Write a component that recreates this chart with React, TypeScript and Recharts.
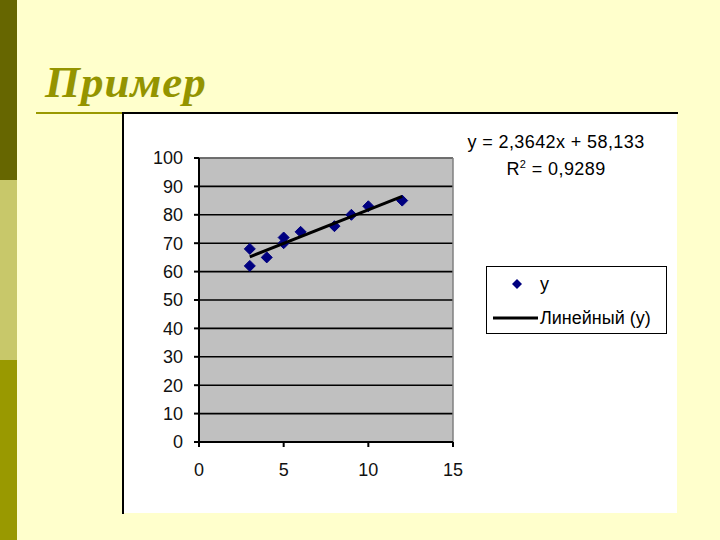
import {
  CartesianGrid,
  Legend,
  ReferenceLine,
  Scatter,
  ScatterChart,
  XAxis,
  YAxis,
} from "recharts";

const xValues = [3, 3, 4, 5, 5, 6, 8, 9, 10, 12];
const yValues = [68, 62, 65, 72, 70, 74, 76, 80, 83, 85];
const trendX = [3, 12];
const trendY = [65.2, 86.5];
const xTicks = [0, 5, 10, 15];
const yTicks = [0, 10, 20, 30, 40, 50, 60, 70, 80, 90, 100];
const seriesName = "y";
const trendName = "Линейный (y)";
const equationText = "y = 2,3642x + 58,133";
const rSquaredText = " = 0,9289";

const points = xValues.map((x, i) => ({ x, y: yValues[i] }));
const trend = trendX.map((x, i) => ({ x, y: trendY[i] }));

const FONT = '"Liberation Sans", Arial, sans-serif';
const MARKER = "#000080";

function Diamond(props: any) {
  const { cx, cy } = props;
  if (cx == null || cy == null) return <g />;
  const r = 5.5;
  return (
    <polygon
      points={`${cx},${cy - r} ${cx + r},${cy} ${cx},${cy + r} ${cx - r},${cy}`}
      fill={MARKER}
      stroke={MARKER}
      strokeWidth={1}
    />
  );
}

function LegendBox() {
  return (
    <div
      style={{
        width: 179,
        height: 66,
        border: "1px solid #000",
        background: "#fff",
        position: "relative",
        fontFamily: FONT,
        fontSize: 18,
        color: "#000",
      }}
    >
      <svg width={60} height={66} style={{ position: "absolute", left: 0, top: 0 }}>
        <polygon points="30,12 35,17 30,22 25,17" fill={MARKER} />
        <line x1={6} y1={51} x2={51} y2={51} stroke="#000" strokeWidth={3} />
      </svg>
      <div style={{ position: "absolute", left: 53, top: 6, lineHeight: "22px" }}>
        {seriesName}
      </div>
      <div style={{ position: "absolute", left: 53, top: 40, lineHeight: "22px" }}>
        {trendName}
      </div>
    </div>
  );
}

export default function App() {
  return (
    <div
      style={{
        position: "absolute",
        left: 0,
        top: 0,
        width: 720,
        height: 540,
        background: "#FFFFCC",
        overflow: "hidden",
      }}
    >
      {/* left stripe */}
      <div style={{ position: "absolute", left: 0, top: 0, width: 17, height: 180, background: "#666600" }} />
      <div style={{ position: "absolute", left: 0, top: 180, width: 17, height: 180, background: "#C8C86A" }} />
      <div style={{ position: "absolute", left: 0, top: 360, width: 17, height: 180, background: "#999900" }} />

      <div
        style={{
          position: "absolute",
          left: 45,
          top: 54,
          fontFamily: '"Liberation Serif", "Times New Roman", serif',
          fontWeight: "bold",
          fontStyle: "italic",
          fontSize: 45,
          lineHeight: "56px",
          color: "#949400",
          letterSpacing: 1,
        }}
      >
        Пример
      </div>
      <div style={{ position: "absolute", left: 36, top: 112, width: 88, height: 2, background: "#999900" }} />

      <div style={{ position: "absolute", left: 123, top: 113, width: 554, height: 400, background: "#fff" }}>
        <ScatterChart
          width={554}
          height={400}
          margin={{ top: 45, right: 224, left: 0, bottom: 0 }}
        >
          <CartesianGrid
            vertical={false}
            fill="#C0C0C0"
            fillOpacity={1}
            stroke="#000"
            strokeWidth={1.6}
          />
          <XAxis
            type="number"
            dataKey="x"
            domain={[0, 15]}
            ticks={xTicks}
            height={71}
            tickSize={5}
            tickMargin={16}
            axisLine={{ stroke: "#000", strokeWidth: 2 }}
            tickLine={{ stroke: "#000", strokeWidth: 2 }}
            tick={{ fill: "#111", fontSize: 18, fontFamily: FONT }}
          />
          <YAxis
            type="number"
            dataKey="y"
            domain={[0, 100]}
            ticks={yTicks}
            width={76}
            tickSize={5}
            tickMargin={11}
            axisLine={{ stroke: "#000", strokeWidth: 2 }}
            tickLine={{ stroke: "#000", strokeWidth: 2 }}
            tick={{ fill: "#111", fontSize: 18, fontFamily: FONT }}
          />
          <ReferenceLine y={100} stroke="#808080" strokeWidth={1.5} />
          <ReferenceLine x={15} stroke="#808080" strokeWidth={1.5} />
          <Scatter
            name={seriesName}
            data={points}
            shape={Diamond}
            isAnimationActive={false}
          />
          <Scatter
            name={trendName}
            data={trend}
            line={{ stroke: "#000", strokeWidth: 3 }}
            shape={() => <g />}
            isAnimationActive={false}
          />
          <Legend
            layout="vertical"
            align="center"
            verticalAlign="middle"
            wrapperStyle={{ left: 363, top: 153, width: 181, height: 68 }}
            content={() => <LegendBox />}
          />
        </ScatterChart>

        <div
          style={{
            position: "absolute",
            left: 298,
            top: 17,
            width: 270,
            textAlign: "center",
            fontFamily: FONT,
            fontSize: 18,
            lineHeight: "24px",
            letterSpacing: 0.4,
            color: "#000",
          }}
        >
          <div>{equationText}</div>
          <div style={{ marginTop: 3 }}>
            R<sup style={{ fontSize: 11, verticalAlign: "7px", lineHeight: 0 }}>2</sup>
            {rSquaredText}
          </div>
        </div>
      </div>

      {/* chart frame: dark left and top edges */}
      <div style={{ position: "absolute", left: 122, top: 112, width: 556, height: 2, background: "#000" }} />
      <div style={{ position: "absolute", left: 122, top: 112, width: 2, height: 402, background: "#000" }} />
    </div>
  );
}
